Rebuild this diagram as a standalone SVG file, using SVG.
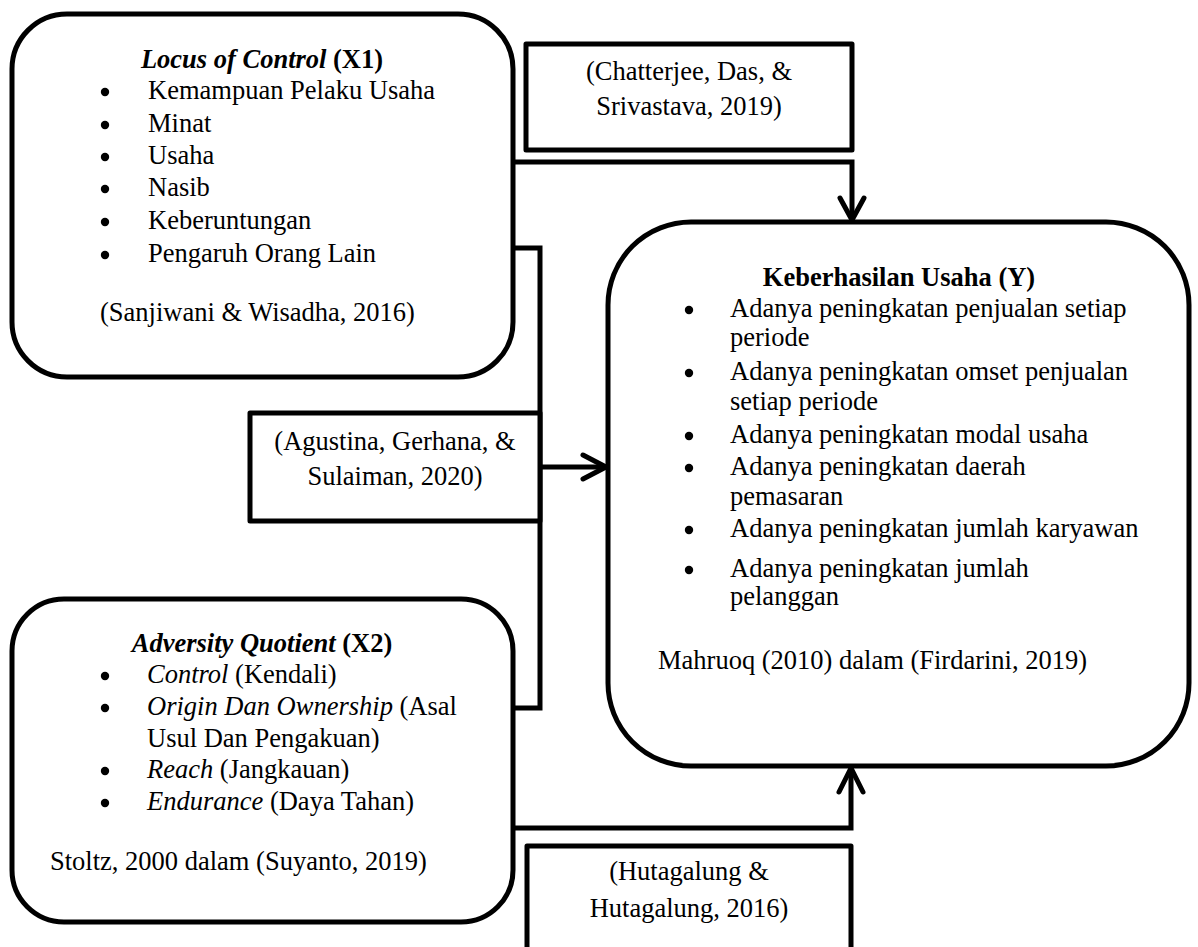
<svg xmlns="http://www.w3.org/2000/svg" width="1198" height="947" viewBox="0 0 1198 947">
<style>
text { font-family: "Liberation Serif", "Times New Roman", serif; font-size: 26.5px; fill: #000; }
.b { font-weight: bold; }
.i { font-style: italic; }
.c { text-anchor: middle; }
.dot { fill: #000; }
.node { fill: #fff; stroke: #000; stroke-width: 5; }
.conn { fill: none; stroke: #000; stroke-width: 5; stroke-linejoin: miter; }
.head { fill: none; stroke: #000; stroke-width: 5; stroke-linecap: round; stroke-linejoin: round; }
</style>
<defs>
  <circle id="bullet" r="4.2" class="dot"/>
</defs>
<rect width="1198" height="947" fill="#fff"/>

<g id="connectors">
  <path class="conn" d="M513,162 H852 V219"/>
  <path class="head" d="M840,198 L852,220 L864,198"/>
  <path class="conn" d="M513,248 H540 V708 H513"/>
  <path class="conn" d="M540,467 H605"/>
  <path class="head" d="M583,455 L606,467 L583,479"/>
  <path class="conn" d="M513,828 H851 V769"/>
  <path class="head" d="M839,792 L851,768 L863,792"/>
</g>

<g id="x1">
  <rect class="node" x="12" y="14" width="501" height="363" rx="55" ry="55"/>
  <text x="262" y="68" class="c"><tspan class="b i">Locus of Control</tspan><tspan class="b"> (X1)</tspan></text>
  <use href="#bullet" x="105" y="92"/><text x="148" y="99">Kemampuan Pelaku Usaha</text>
  <use href="#bullet" x="105" y="125"/><text x="148" y="132">Minat</text>
  <use href="#bullet" x="105" y="157"/><text x="148" y="164">Usaha</text>
  <use href="#bullet" x="105" y="189"/><text x="148" y="196">Nasib</text>
  <use href="#bullet" x="105" y="222"/><text x="148" y="229">Keberuntungan</text>
  <use href="#bullet" x="105" y="255"/><text x="148" y="262">Pengaruh Orang Lain</text>
  <text x="100" y="321">(Sanjiwani &amp; Wisadha, 2016)</text>
</g>

<g id="ref-chatterjee">
  <rect class="node" x="526" y="44" width="326" height="106" stroke-linejoin="round"/>
  <text x="689" y="80" class="c">(Chatterjee, Das, &amp;</text>
  <text x="689" y="115" class="c">Srivastava, 2019)</text>
</g>

<g id="ref-agustina">
  <rect class="node" x="250" y="413" width="290" height="108" stroke-linejoin="round"/>
  <text x="395" y="450" class="c">(Agustina, Gerhana, &amp;</text>
  <text x="395" y="485" class="c">Sulaiman, 2020)</text>
</g>

<g id="x2">
  <rect class="node" x="12" y="599" width="501" height="323" rx="52" ry="52"/>
  <text x="262" y="652" class="c"><tspan class="b i">Adversity Quotient</tspan><tspan class="b"> (X2)</tspan></text>
  <use href="#bullet" x="105" y="676"/><text x="147" y="683"><tspan class="i">Control</tspan> (Kendali)</text>
  <use href="#bullet" x="105" y="708"/><text x="147" y="715"><tspan class="i">Origin Dan Ownership</tspan> (Asal</text>
  <text x="147" y="747">Usul Dan Pengakuan)</text>
  <use href="#bullet" x="105" y="771"/><text x="147" y="778"><tspan class="i">Reach</tspan> (Jangkauan)</text>
  <use href="#bullet" x="105" y="803"/><text x="147" y="810"><tspan class="i">Endurance</tspan> (Daya Tahan)</text>
  <text x="50" y="870">Stoltz, 2000 dalam (Suyanto, 2019)</text>
</g>

<g id="ref-hutagalung">
  <path class="node" d="M527,960 V846 H851 V960" stroke-linejoin="round"/>
  <text x="689" y="880" class="c">(Hutagalung &amp;</text>
  <text x="689" y="917" class="c">Hutagalung, 2016)</text>
</g>

<g id="y">
  <rect class="node" x="608" y="222" width="581" height="544" rx="83" ry="83"/>
  <text x="899" y="286" class="c b">Keberhasilan Usaha (Y)</text>
  <use href="#bullet" x="689" y="310"/><text x="730" y="317">Adanya peningkatan penjualan setiap</text>
  <text x="730" y="346">periode</text>
  <use href="#bullet" x="689" y="373"/><text x="730" y="380">Adanya peningkatan omset penjualan</text>
  <text x="730" y="410">setiap periode</text>
  <use href="#bullet" x="689" y="436"/><text x="730" y="443">Adanya peningkatan modal usaha</text>
  <use href="#bullet" x="689" y="468"/><text x="730" y="475">Adanya peningkatan daerah</text>
  <text x="730" y="505">pemasaran</text>
  <use href="#bullet" x="689" y="530"/><text x="730" y="537">Adanya peningkatan jumlah karyawan</text>
  <use href="#bullet" x="689" y="570"/><text x="730" y="577">Adanya peningkatan jumlah</text>
  <text x="730" y="605">pelanggan</text>
  <text x="658" y="669">Mahruoq (2010) dalam (Firdarini, 2019)</text>
</g>
</svg>
